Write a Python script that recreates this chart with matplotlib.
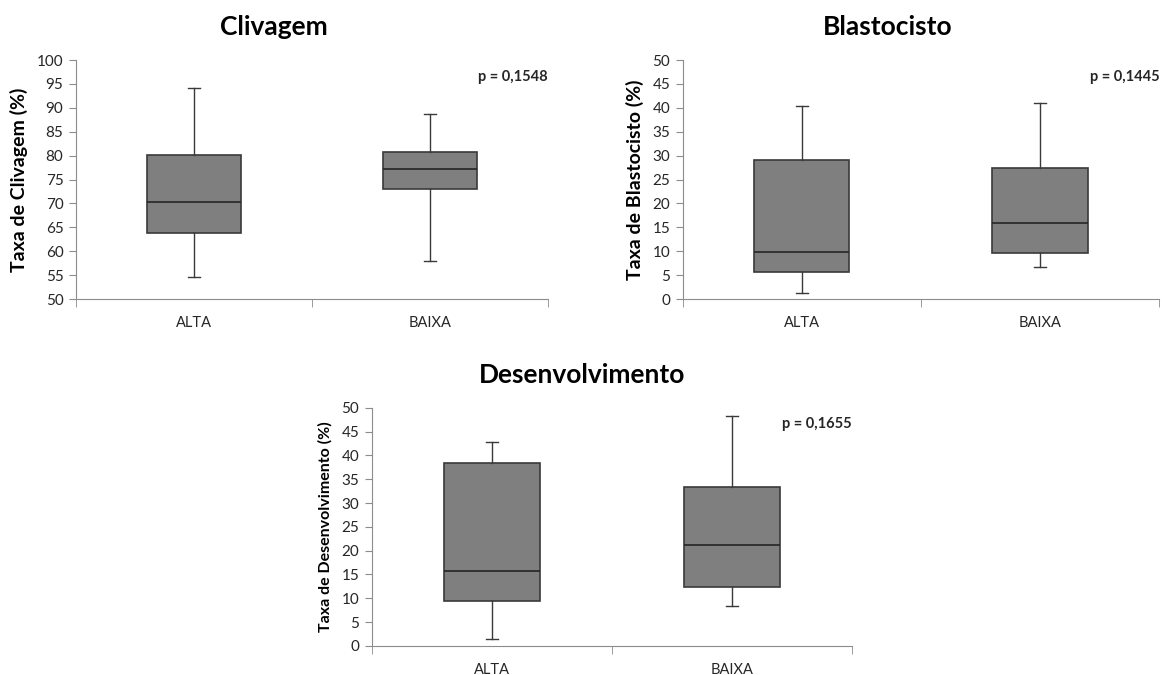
import matplotlib
matplotlib.use("Agg")
import matplotlib.pyplot as plt

plt.rcParams['font.family'] = ['Lato', 'DejaVu Sans']

groups = ["ALTA", "BAIXA"]

# box stats: [min, Q1, median, Q3, max]
cliv_alta = [54.6, 63.9, 70.3, 80.2, 94.2]
cliv_baixa = [57.9, 73.0, 77.2, 80.8, 88.8]
blast_alta = [1.2, 5.6, 9.8, 29.1, 40.3]
blast_baixa = [6.6, 9.7, 16.0, 27.5, 41.0]
desen_alta = [1.4, 9.4, 15.8, 38.4, 42.8]
desen_baixa = [8.4, 12.4, 21.1, 33.4, 48.3]

titles = ["Clivagem", "Blastocisto", "Desenvolvimento"]
ylabels = ["Taxa de Clivagem (%)", "Taxa de Blastocisto (%)", "Taxa de Desenvolvimento (%)"]
pvalues = ["p = 0,1548", "p = 0,1445", "p = 0,1655"]
yranges = [(50, 100), (0, 50), (0, 50)]

axis_col = '#8c8c8c'
edge_col = '#3a3a3a'


def makestats(vals, label):
    return {'whislo': vals[0], 'q1': vals[1], 'med': vals[2], 'q3': vals[3],
            'whishi': vals[4], 'label': label, 'fliers': []}


# Draws one Excel-like box chart on ax
def drawbox(ax, alta, baixa, title, ylabel, ptext, yr, labsize, titlex):
    stats = [makestats(alta, groups[0]), makestats(baixa, groups[1])]
    ax.bxp(stats, positions=[0.5, 1.5], widths=0.4, patch_artist=True, showfliers=False,
           boxprops=dict(facecolor='#7f7f7f', edgecolor=edge_col, linewidth=1.2),
           medianprops=dict(color='#262626', linewidth=1.2),
           whiskerprops=dict(color=edge_col, linewidth=1),
           capprops=dict(color=edge_col, linewidth=1), capwidths=0.05)
    ax.set_xlim(0, 2)
    ax.set_ylim(yr)
    ax.set_yticks(range(yr[0], yr[1] + 1, 5))
    ax.set_xticks([0.5, 1.5])
    ax.set_xticklabels(groups)
    ax.set_xticks([0, 1, 2], minor=True)
    ax.tick_params(axis='x', which='major', length=0, pad=12, labelsize=10.5, labelcolor='#262626')
    ax.tick_params(axis='x', which='minor', length=6, color=axis_col, direction='out')
    ax.tick_params(axis='y', length=5, color=axis_col, labelsize=11, labelcolor='#262626', pad=4)
    for s in ['top', 'right']:
        ax.spines[s].set_visible(False)
    ax.spines['left'].set_color(axis_col)
    ax.spines['bottom'].set_color(axis_col)
    ax.set_title(title, fontsize=19, fontweight='bold', pad=18, x=titlex)
    ax.set_ylabel(ylabel, fontsize=labsize, fontweight='bold', labelpad=6)
    ax.text(1.0, 0.93, ptext, transform=ax.transAxes, ha='right', va='center',
            fontsize=10.5, fontweight='bold', color='#262626')


fig = plt.figure(figsize=(11.65, 6.75), dpi=100)
ax1 = fig.add_axes([0.0652, 0.557, 0.405, 0.354])
ax2 = fig.add_axes([0.586, 0.557, 0.409, 0.354])
ax3 = fig.add_axes([0.319, 0.043, 0.412, 0.353])

drawbox(ax1, cliv_alta, cliv_baixa, titles[0], ylabels[0], pvalues[0], yranges[0], 14, 0.42)
drawbox(ax2, blast_alta, blast_baixa, titles[1], ylabels[1], pvalues[1], yranges[1], 14, 0.43)
drawbox(ax3, desen_alta, desen_baixa, titles[2], ylabels[2], pvalues[2], yranges[2], 11.5, 0.4375)

fig.savefig("out.png", dpi=100)
